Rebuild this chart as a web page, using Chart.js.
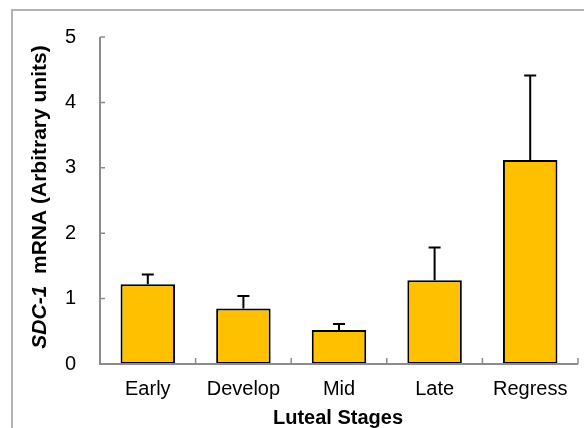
<!DOCTYPE html>
<html>
<head>
<meta charset="utf-8">
<script src="https://cdn.jsdelivr.net/npm/chart.js@4/dist/chart.umd.min.js"></script>
<style>
  html, body { margin: 0; padding: 0; background: #fff; }
  #wrap { width: 584px; height: 428px; position: relative; }
</style>
</head>
<body>
<div id="wrap"><canvas id="c" width="584" height="428"></canvas></div>
<script>
// Luteal stage categories
const stages = ['Early', 'Develop', 'Mid', 'Late', 'Regress'];
// Mean relative SDC-1 mRNA expression per stage
const meanExpr = [1.22, 0.85, 0.52, 1.28, 3.12];
// Upper error (SEM) per stage
const semExpr = [0.15, 0.19, 0.09, 0.50, 1.29];
// Y axis tick values
const yTicks = [0, 1, 2, 3, 4, 5];

const FONT = '"Liberation Sans", Arial, sans-serif';
const AXIS_GRAY = '#8c8c8c';

// Frame around the figure
const framePlugin = {
  id: 'frame',
  beforeDraw(chart) {
    const ctx = chart.ctx;
    ctx.save();
    ctx.strokeStyle = '#b3b3b3';
    ctx.lineWidth = 2;
    ctx.strokeRect(12, 10, 600, 500);
    ctx.restore();
  }
};

// Upward error bars with caps
const errorBarPlugin = {
  id: 'errorBars',
  afterDatasetsDraw(chart) {
    const ctx = chart.ctx;
    const y = chart.scales.y;
    const meta = chart.getDatasetMeta(0);
    ctx.save();
    ctx.strokeStyle = '#000';
    ctx.lineWidth = 2;
    meta.data.forEach((bar, i) => {
      const yTop = y.getPixelForValue(meanExpr[i] + semExpr[i]);
      const yBase = y.getPixelForValue(meanExpr[i]);
      ctx.beginPath();
      ctx.moveTo(bar.x, yBase);
      ctx.lineTo(bar.x, yTop);
      ctx.moveTo(bar.x - 6, yTop);
      ctx.lineTo(bar.x + 6, yTop);
      ctx.stroke();
    });
    ctx.restore();
  }
};

// Axis lines, inward tick marks and axis titles
const axesPlugin = {
  id: 'axesDeco',
  afterDraw(chart) {
    const ctx = chart.ctx;
    const { left, right, top, bottom } = chart.chartArea;
    const x = chart.scales.x;
    const y = chart.scales.y;
    ctx.save();
    ctx.strokeStyle = AXIS_GRAY;
    ctx.lineWidth = 2;
    ctx.beginPath();
    ctx.moveTo(left, top);
    ctx.lineTo(left, bottom);
    ctx.lineTo(right, bottom);
    ctx.stroke();
    ctx.lineWidth = 1.5;
    ctx.beginPath();
    yTicks.forEach(v => {
      const py = y.getPixelForValue(v);
      ctx.moveTo(left, py);
      ctx.lineTo(left + 5, py);
    });
    const step = x.getPixelForValue(1) - x.getPixelForValue(0);
    for (let i = 0; i <= stages.length; i++) {
      const px = i < stages.length ? x.getPixelForValue(i) - step / 2 : right;
      ctx.moveTo(px, bottom);
      ctx.lineTo(px, bottom - 6);
    }
    ctx.stroke();

    // X axis title
    ctx.fillStyle = '#000';
    ctx.font = 'bold 20px ' + FONT;
    ctx.textAlign = 'center';
    ctx.textBaseline = 'alphabetic';
    ctx.fillText('Luteal Stages', (left + right) / 2 - 1, 424);

    // Y axis title with italic gene symbol
    ctx.translate(46, 197);
    ctx.rotate(-Math.PI / 2);
    const partA = 'SDC-1';
    const partB = '  mRNA (Arbitrary units)';
    ctx.font = 'italic bold 21px ' + FONT;
    const wA = ctx.measureText(partA).width;
    ctx.font = 'bold 21px ' + FONT;
    const wB = ctx.measureText(partB).width;
    const start = -(wA + wB) / 2;
    ctx.textAlign = 'left';
    ctx.font = 'italic bold 21px ' + FONT;
    ctx.fillText(partA, start, 0);
    ctx.font = 'bold 21px ' + FONT;
    ctx.fillText(partB, start + wA, 0);
    ctx.restore();
  }
};

new Chart(document.getElementById('c'), {
  type: 'bar',
  data: {
    labels: stages,
    datasets: [{
      data: meanExpr,
      backgroundColor: '#FFC000',
      borderColor: '#000',
      borderWidth: 2,
      borderSkipped: false,
      categoryPercentage: 1,
      barPercentage: 0.57
    }]
  },
  options: {
    responsive: false,
    animation: false,
    devicePixelRatio: 1,
    layout: { padding: { left: 12, top: 37, right: 6, bottom: 0 } },
    plugins: { legend: { display: false }, tooltip: { enabled: false } },
    scales: {
      x: {
        grid: { display: false, drawTicks: false },
        border: { display: false },
        ticks: { color: '#000', font: { family: FONT, size: 20 }, padding: 13 },
        afterFit(s) { s.height = 64; }
      },
      y: {
        min: 0, max: 5,
        afterBuildTicks(s) { s.ticks = yTicks.map(v => ({ value: v })); },
        grid: { display: false, drawTicks: false },
        border: { display: false },
        ticks: { color: '#000', font: { family: FONT, size: 20 }, padding: 24 },
        afterFit(s) { s.width = 88; }
      }
    }
  },
  plugins: [framePlugin, errorBarPlugin, axesPlugin]
});
</script>
</body>
</html>
